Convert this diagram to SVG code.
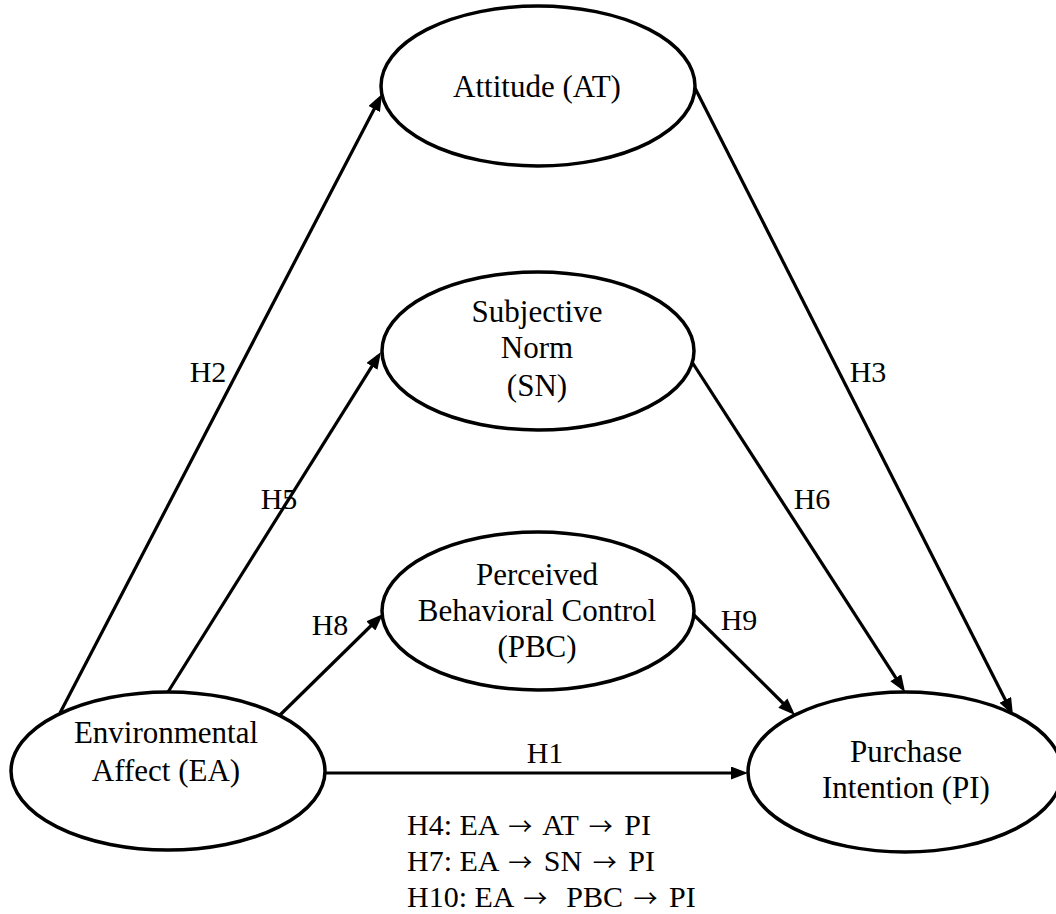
<svg xmlns="http://www.w3.org/2000/svg" width="1056" height="914" viewBox="0 0 1056 914">
<style>
.node ellipse{fill:#fff;stroke:#000;stroke-width:3.5}
.node text,.lbl,.note{font-family:"Liberation Serif","Times New Roman",serif;fill:#000}
.node text{font-size:31px;text-anchor:middle}
.lbl{font-size:30px;text-anchor:middle}
.note{font-size:30px}
.arr{font-family:"Noto Sans CJK JP","Liberation Serif",serif;font-size:24px}
.edge{stroke:#000;stroke-width:3.2;fill:none;marker-end:url(#ah)}
</style>
<defs>
<marker id="ah" markerUnits="userSpaceOnUse" markerWidth="17" markerHeight="13" refX="12" refY="6.5" orient="auto">
<path d="M0,0 L17,6.5 L0,13 z" fill="#000"/>
</marker>
</defs>
<rect width="1056" height="914" fill="#fff"/>
<g id="connectors">
<line class="edge" x1="60" y1="713" x2="379.7" y2="98.4"/>
<line class="edge" x1="168" y1="692" x2="378.3" y2="356.2"/>
<line class="edge" x1="280" y1="715" x2="379.4" y2="617.5"/>
<line class="edge" x1="325" y1="773" x2="743" y2="773"/>
<line class="edge" x1="695" y1="88" x2="1010.7" y2="710.5"/>
<line class="edge" x1="692" y1="362" x2="902.3" y2="687.8"/>
<line class="edge" x1="694" y1="615" x2="791.4" y2="711.5"/>
</g>
<g id="edge-labels">
<text class="lbl" x="208" y="382">H2</text>
<text class="lbl" x="279" y="509">H5</text>
<text class="lbl" x="330" y="635">H8</text>
<text class="lbl" x="868" y="382">H3</text>
<text class="lbl" x="812" y="509">H6</text>
<text class="lbl" x="739" y="630">H9</text>
<text class="lbl" x="545" y="763">H1</text>
</g>
<g id="node-AT" class="node">
<ellipse cx="538" cy="86" rx="157" ry="80"/>
<text x="537" y="97">Attitude (AT)</text>
</g>
<g id="node-SN" class="node">
<ellipse cx="538" cy="351" rx="156" ry="79"/>
<text x="537" y="322">Subjective</text>
<text x="537" y="358">Norm</text>
<text x="537" y="396">(SN)</text>
</g>
<g id="node-PBC" class="node">
<ellipse cx="538" cy="611" rx="156" ry="79"/>
<text x="537" y="585">Perceived</text>
<text x="537" y="621">Behavioral Control</text>
<text x="537" y="657">(PBC)</text>
</g>
<g id="node-EA" class="node">
<ellipse cx="168" cy="771" rx="157" ry="79"/>
<text x="166" y="743">Environmental</text>
<text x="166" y="781">Affect (EA)</text>
</g>
<g id="node-PI" class="node">
<ellipse cx="905" cy="772" rx="157" ry="80"/>
<text x="906" y="762">Purchase</text>
<text x="906" y="798">Intention (PI)</text>
</g>
<g id="notes">
<text class="note" x="407" y="835">H4: EA <tspan class="arr" dx="3">→</tspan><tspan dx="4"> AT </tspan><tspan class="arr" dx="3">→</tspan><tspan dx="4"> PI</tspan></text>
<text class="note" x="407" y="871">H7: EA <tspan class="arr" dx="3">→</tspan><tspan dx="4"> SN </tspan><tspan class="arr" dx="3">→</tspan><tspan dx="4"> PI</tspan></text>
<text class="note" x="407" y="907" xml:space="preserve">H10: EA <tspan class="arr" dx="3">→</tspan><tspan dx="4">  PBC </tspan><tspan class="arr" dx="3">→</tspan><tspan dx="4"> PI</tspan></text>
</g>
</svg>
